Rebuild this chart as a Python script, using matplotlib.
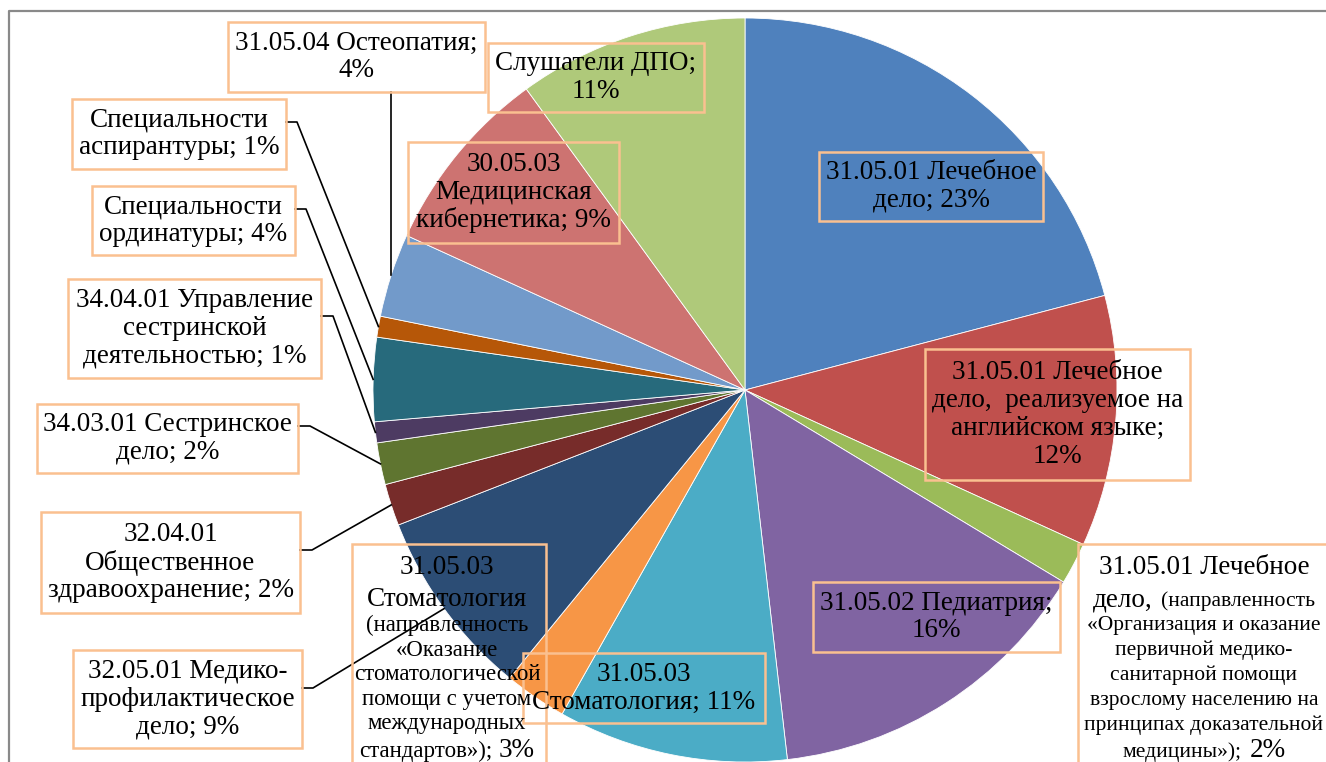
import numpy as np
import matplotlib.pyplot as plt
from matplotlib.patches import Rectangle

plt.rcParams['font.family'] = ['Liberation Serif', 'DejaVu Serif']

# данные: доли по специальностям (по часовой стрелке от 12 часов)
names = [
    "31.05.01 Лечебное дело",
    "31.05.01 Лечебное дело, реализуемое на английском языке",
    "31.05.01 Лечебное дело (направленность ДМ)",
    "31.05.02 Педиатрия",
    "31.05.03 Стоматология",
    "31.05.03 Стоматология (направленность МС)",
    "32.05.01 Медико-профилактическое дело",
    "32.04.01 Общественное здравоохранение",
    "34.03.01 Сестринское дело",
    "34.04.01 Управление сестринской деятельностью",
    "Специальности ординатуры",
    "Специальности аспирантуры",
    "31.05.04 Остеопатия",
    "30.05.03 Медицинская кибернетика",
    "Слушатели ДПО",
]
values = [23, 12, 2, 16, 11, 3, 9, 2, 2, 1, 4, 1, 4, 9, 11]
colors = ["#4F81BD", "#C0504D", "#9BBB59", "#8064A2", "#4BACC6", "#F79646",
          "#2C4D75", "#772C2A", "#5F7530", "#4D3B62", "#276A7C", "#B65708",
          "#729ACA", "#CD7371", "#AFC97A"]

W, H = 1326, 762
BIG = 19.5
BOX = "#FAC090"

fig = plt.figure(figsize=(W / 100, H / 100), dpi=100)
ax = fig.add_axes([0, 0, 1, 1])


def py(y):
    return H - y


cx, cy, R = 745, py(390), 372
wedges, _ = ax.pie(values, colors=colors, startangle=90, counterclock=False,
                   center=(cx, cy), radius=R,
                   wedgeprops=dict(edgecolor="white", linewidth=0.6))
ax.set_xlim(0, W)
ax.set_ylim(0, H)
ax.set_aspect("equal")
ax.axis("off")

# рамка диаграммы
ax.plot([9, 9, W], [0, py(11), py(11)], color="#898989", lw=1.6, zorder=1)


def edge_point(i):
    w = wedges[i]
    a = np.deg2rad((w.theta1 + w.theta2) / 2)
    return cx + R * np.cos(a), cy + R * np.sin(a)


def box(x0, y0, x1, y1):
    ax.add_patch(Rectangle((x0, py(y1)), x1 - x0, y1 - y0, fill=False,
                           edgecolor=BOX, lw=1.8, zorder=4))


# подписи с одним размером шрифта
labels = [
    (0, (819, 152, 1043, 221), "31.05.01 Лечебное\nдело; {}%"),
    (1, (925, 349, 1190, 480), "31.05.01 Лечебное\nдело,  реализуемое на\nанглийском языке;\n{}%"),
    (3, (813, 582, 1060, 652), "31.05.02 Педиатрия;\n{}%"),
    (4, (523, 653, 765, 723), "31.05.03\nСтоматология; {}%"),
    (13, (408, 142, 619, 243), "30.05.03\nМедицинская\nкибернетика; {}%"),
    (14, (488, 43, 704, 112), "Слушатели ДПО;\n{}%"),
    (12, (228, 22, 485, 92), "31.05.04 Остеопатия;\n{}%"),
    (11, (72, 99, 286, 169), "Специальности\nаспирантуры; {}%"),
    (10, (92, 186, 295, 255), "Специальности\nординатуры; {}%"),
    (9, (68, 279, 321, 378), "34.04.01 Управление\nсестринской\nдеятельностью; {}%"),
    (8, (37, 404, 298, 473), "34.03.01 Сестринское\nдело; {}%"),
    (7, (41, 512, 300, 613), "32.04.01\nОбщественное\nздравоохранение; {}%"),
    (6, (73, 650, 302, 748), "32.05.01 Медико-\nпрофилактическое\nдело; {}%"),
]
for i, (x0, y0, x1, y1), tpl in labels:
    box(x0, y0, x1, y1)
    ax.text((x0 + x1) / 2, py((y0 + y1) / 2), tpl.format(values[i]),
            fontsize=BIG, ha="center", va="center", multialignment="center",
            linespacing=1.15, zorder=5)

# подписи со смешанным размером шрифта
renderer = fig.canvas.get_renderer()


def mixed_line(xc, yb, pieces, gap=6):
    texts = [ax.text(0, py(yb), s, fontsize=fs, ha="left", va="baseline", zorder=5)
             for s, fs in pieces]
    widths = [t.get_window_extent(renderer).width for t in texts]
    x = xc - (sum(widths) + gap * (len(widths) - 1)) / 2
    for t, w in zip(texts, widths):
        t.set_x(x)
        x += w + gap


s1 = 16.5
box(352, 544, 546, 800)
stom = [
    (574, [("31.05.03", BIG)]),
    (606, [("Стоматология", BIG)]),
    (631, [("(направленность", s1)]),
    (656, [("«Оказание", s1)]),
    (680, [("стоматологической", s1)]),
    (705, [("помощи с учетом", s1)]),
    (729, [("международных", s1)]),
    (757, [("стандартов»);", s1), ("{}%".format(values[5]), BIG)]),
]
for yb, pieces in stom:
    mixed_line(447, yb, pieces)

s2 = 15.5
box(1078, 544, 1345, 800)
med = [
    (574, [("31.05.01 Лечебное", BIG)]),
    (606, [("дело,", BIG), ("(направленность", s2)]),
    (630, [("«Организация и оказание", s2)]),
    (655, [("первичной медико-", s2)]),
    (680, [("санитарной помощи", s2)]),
    (705, [("взрослому населению на", s2)]),
    (730, [("принципах доказательной", s2)]),
    (757, [("медицины»);", s2), ("{}%".format(values[2]), BIG)]),
]
for yb, pieces in med:
    mixed_line(1204, yb, pieces, gap=8)

# линии-выноски
leaders = [
    (11, [(286, 122), (297, 122)]),
    (10, [(295, 209), (306, 209)]),
    (9, [(321, 316), (333, 316)]),
    (8, [(298, 426), (310, 426)]),
    (7, [(300, 550), (312, 550)]),
    (6, [(302, 688), (313, 688)]),
]
for i, pts in leaders:
    ex, ey = edge_point(i)
    xs = [p[0] for p in pts] + [ex]
    ys = [py(p[1]) for p in pts] + [ey]
    ax.plot(xs, ys, color="black", lw=1.2, zorder=3)

ex, ey = edge_point(12)
ax.plot([ex, ex], [py(92), ey], color="black", lw=1.2, zorder=3)

fig.savefig("out.png", dpi=100)
